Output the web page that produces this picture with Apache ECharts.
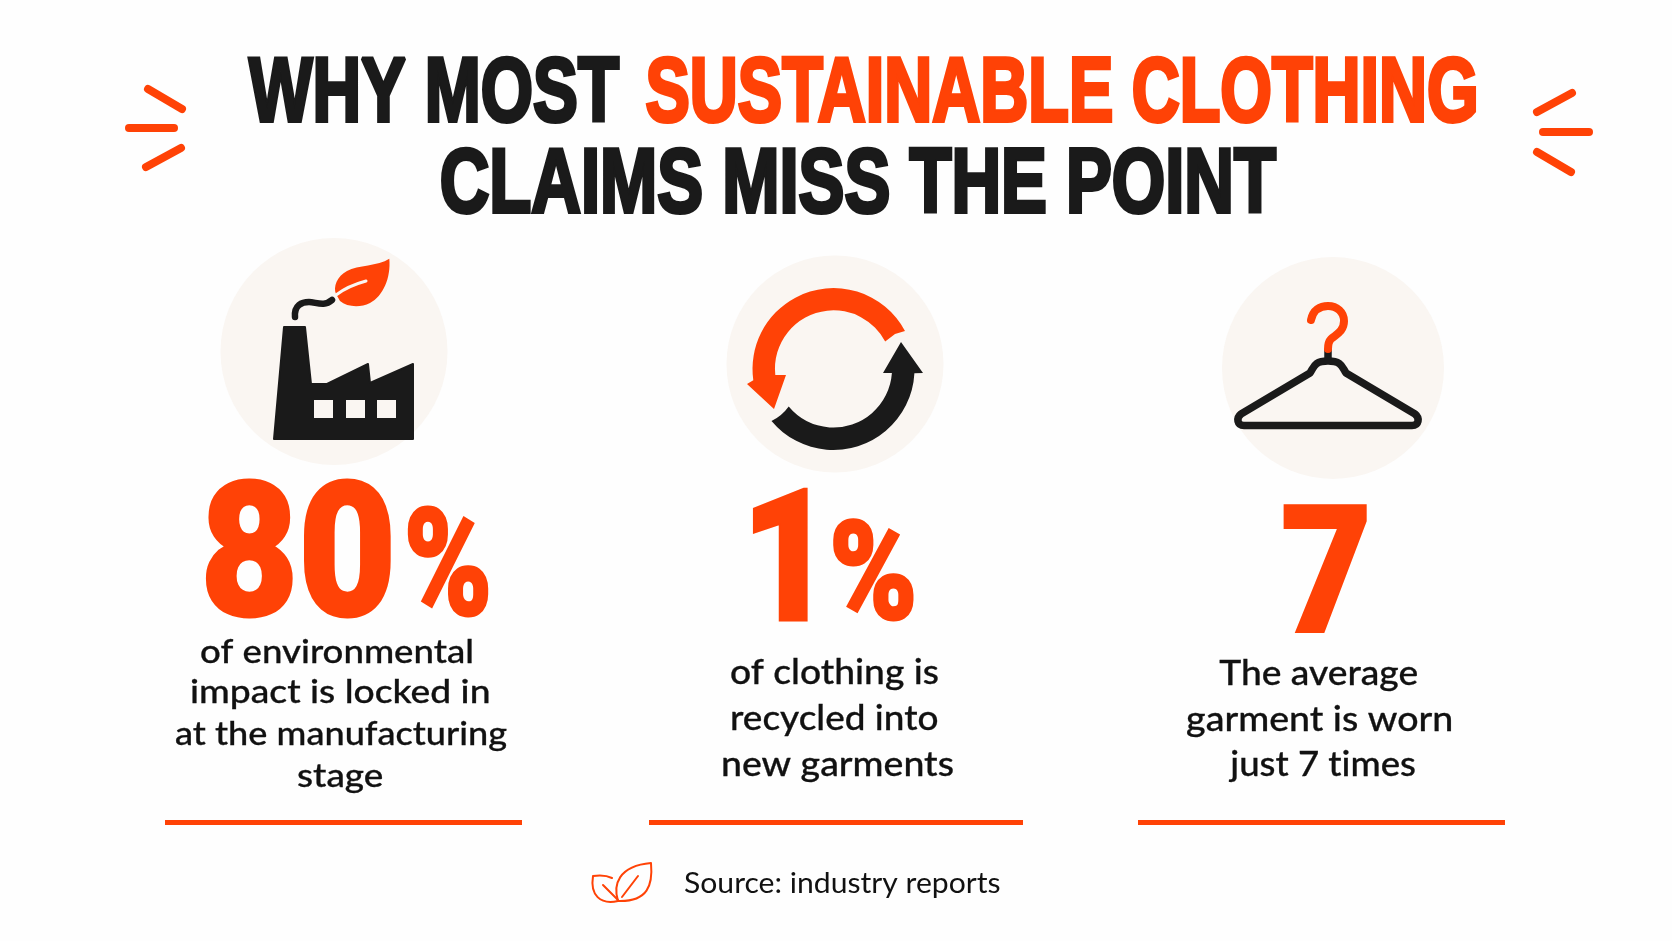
<!DOCTYPE html>
<html><head><meta charset="utf-8">
<style>html,body{margin:0;padding:0;background:#fefefe}#c{width:1672px;height:941px}</style>
<script src="https://cdn.jsdelivr.net/npm/echarts@6/dist/echarts.min.js"></script>
</head><body><div id="c"></div>
<script>
const titleBlack1 = 'WHY MOST';
const titleAccent = 'SUSTAINABLE CLOTHING';
const titleBlack2 = 'CLAIMS MISS THE POINT';
const statNumbers = ['80', '1', '7'];
const statUnits = ['%', '%', ''];
const statLabels = [
  ['of environmental', 'impact is locked in', 'at the manufacturing', 'stage'],
  ['of clothing is', 'recycled into', 'new garments'],
  ['The average', 'garment is worn', 'just 7 times']
];
const sourceText = 'Source: industry reports';

const origGetContext = HTMLCanvasElement.prototype.getContext;
HTMLCanvasElement.prototype.getContext = function (type, o) {
  const c = origGetContext.call(this, type, o);
  if (type === '2d' && c && 'textRendering' in c) c.textRendering = 'optimizeSpeed';
  return c;
};

const ORANGE = '#ff4206', DARK = '#1a1a1a', DISC = '#faf6f2';
const HEAVY = 'Roboto', TITLE = 'Liberation Sans', BODY = 'Lato';
const ctx = document.createElement('canvas').getContext('2d');
ctx.textBaseline = 'middle';
function m(str, weight, size, fam) { ctx.font = `${weight} ${size}px "${fam}"`; return ctx.measureText(str); }
function txt(str, x, y, sx, weight, size, fam, fill, embolden) {
  return { type: 'text', x, y, scaleX: sx, silent: true, style: {
    text: str, fill, fontFamily: fam, fontWeight: weight, fontSize: size,
    align: 'left', verticalAlign: 'middle',
    stroke: embolden ? fill : null, lineWidth: embolden || 0 } };
}
function fitBox(str, x0, x1, y0, y1, fill, e) {
  e = e || 0; x0 += e / 2; x1 -= e / 2; y0 += e / 2; y1 -= e / 2;
  const w = 900, p = m(str, w, 100, HEAVY);
  const size = 100 * (y1 - y0) / (p.actualBoundingBoxAscent + p.actualBoundingBoxDescent);
  const q = m(str, w, size, HEAVY);
  const sx = (x1 - x0) / (q.actualBoundingBoxLeft + q.actualBoundingBoxRight);
  return txt(str, x0 + q.actualBoundingBoxLeft * sx, y1 - q.actualBoundingBoxDescent, sx, w, size, HEAVY, fill, e);
}
function fitLine(str, x0, x1, base, size, weight, fam, fill, e) {
  e = e || 0;
  const q = m(str, weight, size, fam), h = m('H', weight, size, fam);
  const sx = (x1 - x0 - e) / (q.actualBoundingBoxLeft + q.actualBoundingBoxRight);
  return txt(str, x0 + e / 2 + q.actualBoundingBoxLeft * sx, base - e / 2 - h.actualBoundingBoxDescent, sx, weight, size, fam, fill, e);
}
const TITLE_E = 4;
const capH = m('H', 700, 100, TITLE);
const titleSize = 100 * (67 - TITLE_E) / (capH.actualBoundingBoxAscent + capH.actualBoundingBoxDescent);
let shapeId = 0;
function pathShape(d) {
  const name = 'iconPath' + (shapeId++);
  echarts.graphic.registerShape(name, echarts.graphic.extendPath(d, {}));
  return name;
}
const disc = (cx, cy, r) => ({ type: 'circle', silent: true, shape: { cx, cy, r }, style: { fill: DISC } });
const fillPath = (d, fill, extra) => ({ type: pathShape(d), silent: true, style: Object.assign({ fill }, extra || {}) });
const strokePath = (d, stroke, lineWidth) => ({ type: pathShape(d), silent: true, style: { fill: null, stroke, lineWidth, lineCap: 'round', lineJoin: 'round' } });
const seg = (x1, y1, x2, y2, stroke, lineWidth, cap) => ({ type: 'line', silent: true, shape: { x1, y1, x2, y2 }, style: { stroke, lineWidth, lineCap: cap || 'round' } });
const rect = (x, y, width, height, fill) => ({ type: 'rect', silent: true, shape: { x, y, width, height }, style: { fill } });
const polar = (deg, r) => { const a = deg * Math.PI / 180; return (833.5 + r * Math.cos(a)).toFixed(1) + ' ' + (369 + r * Math.sin(a)).toFixed(1); };

const els = [];
els.push(fitLine(titleBlack1, 247, 621, 122.5, titleSize, 700, TITLE, DARK, TITLE_E));
els.push(fitLine(titleAccent, 645, 1477, 122.5, titleSize, 700, TITLE, ORANGE, TITLE_E));
els.push(fitLine(titleBlack2, 440, 1278, 213.5, titleSize, 700, TITLE, DARK, TITLE_E));
[[148,89,182,109],[129,128,174,128],[146,167,181,148],[1572,93,1537,112],[1543,132,1589,132],[1537,152,1571,172]]
  .forEach(a => els.push(seg(a[0], a[1], a[2], a[3], ORANGE, 8)));
els.push(disc(334, 351.5, 113.5), disc(835, 364, 108.5), disc(1333, 368, 111));
els.push(fillPath('M274 439 L284 327 H305 L311 384 H327 L368 364 L370 383 L413 364 V439 Z', DARK, { stroke: DARK, lineWidth: 2, lineJoin: 'round' }));
[314, 346, 377].forEach(x => els.push(rect(x, 400, 19, 18, DISC)));
els.push(strokePath('M295 317 C294 305,302 302,309 302 C316 302,324 307,332 300', DARK, 6.5));
els.push(fillPath('M389.3 258.7 C378 266,358 265,347 271 C337 276,333 287,336 294 L340 301 C347 307,360 308,370 303 C383 296,391 278,389.3 258.7Z', ORANGE));
els.push(strokePath('M336 295 C345 288,355 284,366 281', DISC, 3));
els.push(fillPath(`M${polar(-28, 81)} A81 81 0 0 0 ${polar(172, 81)} L747 384 L774 409 L786 375 L${polar(174, 58.5)} A58.5 58.5 0 0 1 ${polar(-28, 58.5)} L895 334 Z`, ORANGE));
els.push(fillPath(`M${polar(140, 81)} A81 81 0 0 0 ${polar(3, 81)} L923 373 L901 342 L883 373 L${polar(4, 58.5)} A58.5 58.5 0 0 1 ${polar(140, 58.5)} Q782 416 ${polar(140, 81)}Z`, DARK));
els.push(strokePath('M1244 425.5 H1412 C1419 425.5,1420 418,1415 414 L1346 373 C1342 367,1342 361,1328 361 C1314 361,1314 367,1310 373 L1241 414 C1236 418,1237 425.5,1244 425.5Z', DARK, 7.5));
els.push(seg(1328, 349, 1328, 360, DARK, 7.5, 'butt'));
els.push(strokePath('M1311 320 C1313 310,1320 306,1328 306 C1337 306,1344 312,1344 321 C1344 332,1335 335,1331 339 C1328 342,1328 345,1328 349', ORANGE, 8));
els.push(fitBox(statNumbers[0], 205, 391, 478, 618, ORANGE, 3));
els.push(fitBox(statUnits[0], 407, 489, 505, 617, ORANGE, 3));
els.push(fitBox(statNumbers[1], 752, 808, 486, 621, ORANGE, 3));
els.push(fitBox(statUnits[1], 833, 914, 518, 621, ORANGE, 3));
els.push(fitBox(statNumbers[2], 1283, 1367, 503, 633, ORANGE, 2));
const labelBoxes = [
  [[201,472,663],[191,489,703],[176,507,745],[298,383,787]],
  [[731,938,684],[732,938,730],[723,953,776]],
  [[1219,1418,685],[1187,1452,731],[1228,1415,776]]
];
const labelSize = [33, 34.5, 34.5];
statLabels.forEach((lines, i) => lines.forEach((s, j) => {
  const b = labelBoxes[i][j];
  els.push(fitLine(s, b[0], b[1], b[2], labelSize[i], 500, BODY, '#111', 0.3));
}));
[[165,522],[649,1023],[1138,1505]].forEach(r => els.push(rect(r[0], 820, r[1] - r[0], 5, ORANGE)));
els.push(strokePath('M618 901 C613 885,618 866,651 863 C653 885,648 902,618 901 Z M622 897 L638 876', ORANGE, 2));
els.push(strokePath('M618 901 C600 905,590 895,593 876 C600 875,606 875,612 878 M603 885 L618 900', ORANGE, 2));
els.push(fitLine(sourceText, 684, 1000, 893, 29, 400, BODY, '#111'));

const chart = echarts.init(document.getElementById('c'), null, { renderer: 'canvas', width: 1672, height: 941 });
chart.setOption({ backgroundColor: '#fefefe', animation: false, graphic: { elements: els } });
</script></body></html>
